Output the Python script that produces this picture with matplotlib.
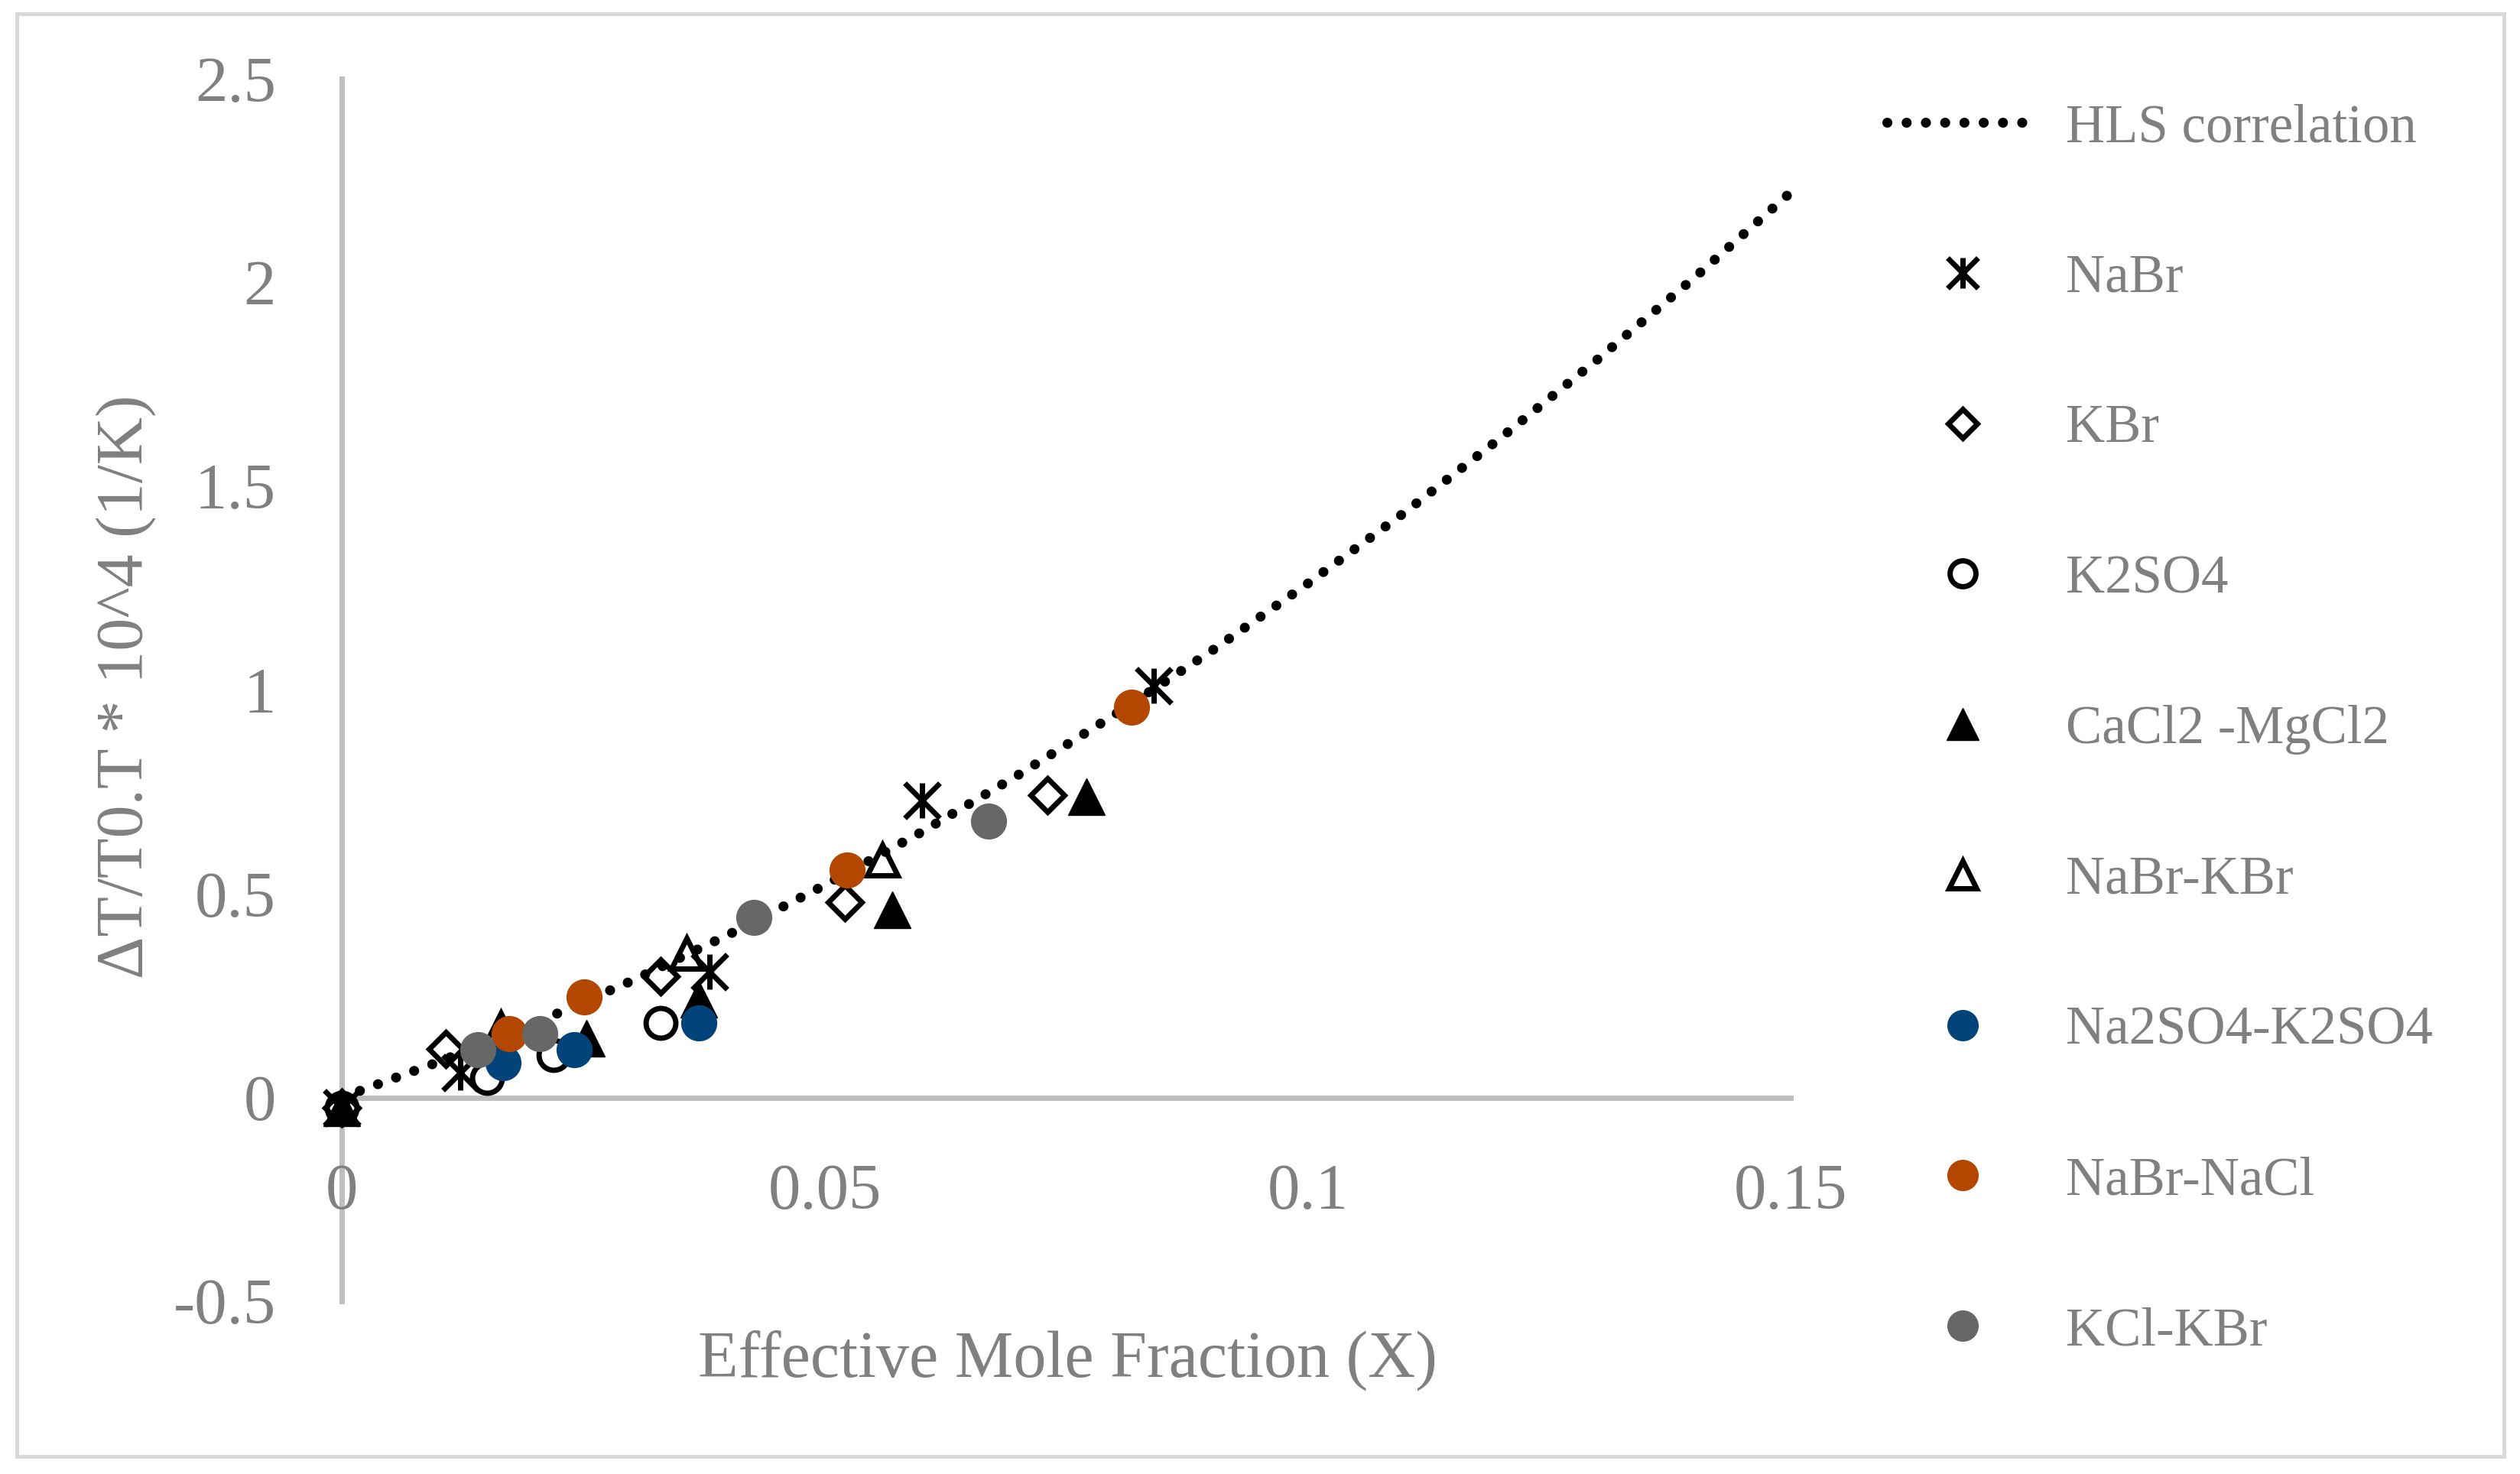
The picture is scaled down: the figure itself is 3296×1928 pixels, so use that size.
import matplotlib
matplotlib.use("Agg")
import matplotlib.pyplot as plt
from matplotlib.path import Path
from matplotlib.patches import Rectangle

# HLS correlation
hls_x = [0, 0.01, 0.02, 0.03, 0.04, 0.05, 0.06, 0.07, 0.08, 0.09, 0.10, 0.11, 0.12, 0.13, 0.14, 0.15]
hls_y = [0, 0.087, 0.182, 0.286, 0.399, 0.521, 0.651, 0.791, 0.939, 1.095, 1.261, 1.435, 1.619, 1.811, 2.011, 2.221]

nabr_x = [0, 0.0123, 0.0381, 0.0601, 0.0841]
nabr_y = [-0.025, 0.061, 0.309, 0.729, 1.010]
kbr_x = [0, 0.0108, 0.0330, 0.0521, 0.0731]
kbr_y = [-0.025, 0.119, 0.297, 0.479, 0.742]
k2so4_x = [0, 0.0150, 0.0219, 0.0330]
k2so4_y = [-0.025, 0.048, 0.104, 0.183]
cacl2_x = [0, 0.0253, 0.0370, 0.0570, 0.0771]
cacl2_y = [-0.025, 0.145, 0.241, 0.461, 0.738]
nabr_kbr_x = [0.0165, 0.0357, 0.0560]
nabr_kbr_y = [0.170, 0.354, 0.583]
na2so4_x = [0.0167, 0.0241, 0.0370]
na2so4_y = [0.085, 0.117, 0.183]
nabr_nacl_x = [0.0173, 0.0251, 0.0523, 0.0818]
nabr_nacl_y = [0.157, 0.247, 0.558, 0.958]
kcl_kbr_x = [0.0141, 0.0205, 0.0427, 0.0670]
kcl_kbr_y = [0.117, 0.157, 0.442, 0.678]

x_ticks = [0, 0.05, 0.1, 0.15]
x_tick_labels = ["0", "0.05", "0.1", "0.15"]
y_ticks = [-0.5, 0, 0.5, 1, 1.5, 2, 2.5]
y_tick_labels = ["-0.5", "0", "0.5", "1", "1.5", "2", "2.5"]

TXT = "#808080"
AXC = "#bfbfbf"
BLUE = "#02437a"
ORANGE = "#b34700"
GRAY = "#676767"

plt.rcParams["font.family"] = ["Liberation Serif", "DejaVu Serif"]

W, H, DPI = 3296, 1928, 200
fig = plt.figure(figsize=(W / DPI, H / DPI), dpi=DPI)
ax = fig.add_axes([447 / W, 226 / H, 1895 / W, 1599 / H])

# asterisk marker: vertical bar plus an X
star = Path([(0, 1), (0, -1), (-1, 1), (1, -1), (-1, -1), (1, 1)],
            [Path.MOVETO, Path.LINETO, Path.MOVETO, Path.LINETO, Path.MOVETO, Path.LINETO])

mew = 2.5
common = dict(linestyle="none", clip_on=False)
hls, = ax.plot(hls_x, hls_y, color="black", lw=4.7, linestyle=(0, (0.01, 1.92)),
               dash_capstyle="round", label="HLS correlation", clip_on=False)
h1, = ax.plot(nabr_x, nabr_y, marker=star, ms=16.5, mec="black", mew=mew, label="NaBr", **common)
h2, = ax.plot(kbr_x, kbr_y, marker="D", ms=11, mfc="none", mec="black", mew=mew, label="KBr", **common)
h3, = ax.plot(k2so4_x, k2so4_y, marker="o", ms=14, mfc="none", mec="black", mew=mew, label="K2SO4", **common)
h4, = ax.plot(cacl2_x, cacl2_y, marker="^", ms=17, mfc="black", mec="black", mew=0.5, label="CaCl2 -MgCl2", **common)
h5, = ax.plot(nabr_kbr_x, nabr_kbr_y, marker="^", ms=14.5, mfc="none", mec="black", mew=mew, label="NaBr-KBr", **common)
h6, = ax.plot(na2so4_x, na2so4_y, marker="o", ms=17, mfc=BLUE, mec=BLUE, mew=0, label="Na2SO4-K2SO4", **common)
h7, = ax.plot(nabr_nacl_x, nabr_nacl_y, marker="o", ms=17, mfc=ORANGE, mec=ORANGE, mew=0, label="NaBr-NaCl", **common)
h8, = ax.plot(kcl_kbr_x, kcl_kbr_y, marker="o", ms=17, mfc=GRAY, mec=GRAY, mew=0, label="KCl-KBr", **common)

ax.set_xlim(0, 0.15)
ax.set_ylim(-0.5, 2.5)
ax.set_xticks(x_ticks)
ax.set_xticklabels(x_tick_labels)
ax.set_yticks(y_ticks)
ax.set_yticklabels(y_tick_labels)
ax.tick_params(length=0, labelsize=30.5, labelcolor=TXT)
ax.tick_params(axis="x", pad=31)
ax.tick_params(axis="y", pad=31)

for s in ["top", "right"]:
    ax.spines[s].set_visible(False)
ax.spines["bottom"].set_position(("data", 0))
for s in ["left", "bottom"]:
    ax.spines[s].set_color(AXC)
    ax.spines[s].set_linewidth(2.5)
    ax.spines[s].set_zorder(0.5)
ax.patch.set_visible(False)

fig.text(1396 / W, 1 - 1800 / H, "Effective Mole Fraction (X)", ha="center", va="baseline",
         fontsize=31, color=TXT)
fig.text(165 / W, 1 - 898 / H, "ΔT/T0.T * 10^4 (1/K)", ha="center", va="center",
         rotation=90, fontsize=31, color=TXT)

leg = fig.legend(handles=[hls, h1, h2, h3, h4, h5, h6, h7, h8], loc="upper left",
                 bbox_to_anchor=(2468 / W, 1 - 135 / H), frameon=False, fontsize=25.5,
                 labelcolor=TXT, handlelength=2.8, handletextpad=0.5, labelspacing=1.86,
                 borderpad=0, borderaxespad=0, markerscale=0.87)

fig.patches.append(Rectangle((22 / W, 1 - 1905 / H), (3275 - 22) / W, (1905 - 18) / H,
                             transform=fig.transFigure, fill=False, edgecolor="#d9d9d9", lw=1.8))

fig.savefig("out.png", dpi=DPI)
